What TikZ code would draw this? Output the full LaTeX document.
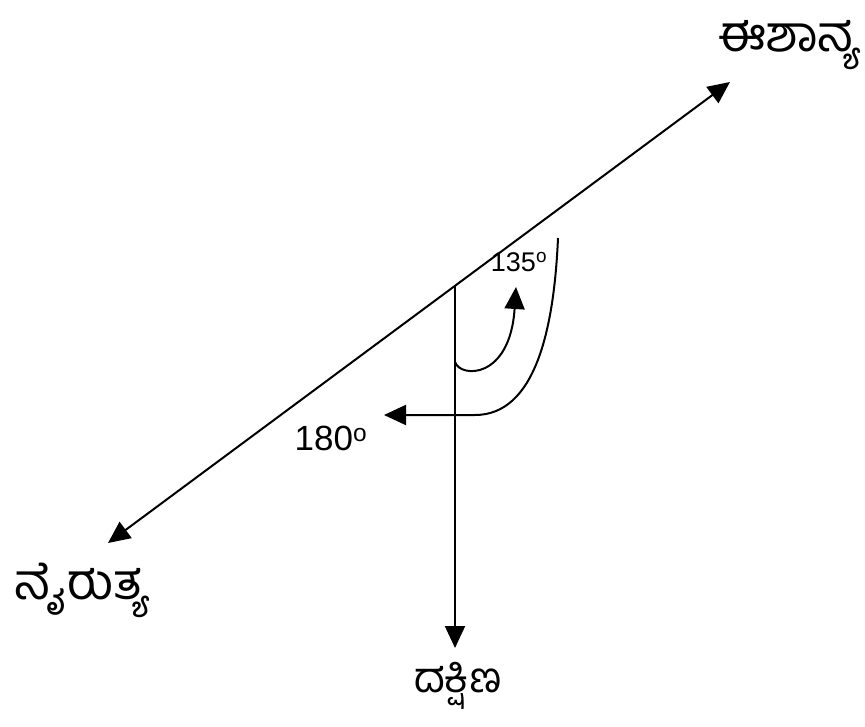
\documentclass[tikz,border=0pt]{standalone}
\usepackage{fontspec}
\setmainfont{Liberation Sans}
\newfontfamily\kanfont[Script=Kannada]{Hind Mysuru}
\usetikzlibrary{arrows.meta}
\tikzset{
  ln/.style={line width=2pt, black},
  arr/.style={ln, -{Triangle[length=22pt,width=20pt]}},
  darr/.style={ln, {Triangle[length=22pt,width=20pt]}-{Triangle[length=22pt,width=20pt]}},
  kan/.style={font=\kanfont\fontsize{50}{54}\selectfont, inner sep=0pt},
  deg/.style={inner sep=0pt}
}
\begin{document}
\begin{tikzpicture}[x=1pt,y=-1pt]
\useasboundingbox (0,0) rectangle (865,727);
\coordinate (O) at (455,286);
\coordinate (ne) at (730,82);
\coordinate (sw) at (108,543);
\coordinate (s) at (455,648);
\coordinate (a1) at (455,362);
\coordinate (a1e) at (516,287);
\coordinate (a2) at (558,238);
\coordinate (a2m) at (475,415);
\coordinate (a2e) at (384,415);
\draw[darr] (sw) -- (ne);
\draw[arr] (O) -- (s);
\draw[arr] (a1) .. controls (460,378) and (510,380) .. (a1e);
\draw[arr] (a2) .. controls (554,330) and (535,415) .. (a2m) -- (a2e);
\node[kan] (lne) at (789,45) {ಈಶಾನ್ಯ};
\node[kan] (lsw) at (82,590) {ನೈರುತ್ಯ};
\node[kan, font=\kanfont\fontsize{42}{46}\selectfont] (ls) at (458,686) {ದಕ್ಷಿಣ};
\node[deg, font=\fontsize{27}{30}\selectfont] (l135) at (519,262) {135\textsuperscript{o}};
\node[deg, font=\fontsize{35}{40}\selectfont] (l180) at (331,438) {180\textsuperscript{o}};
\end{tikzpicture}
\end{document}
